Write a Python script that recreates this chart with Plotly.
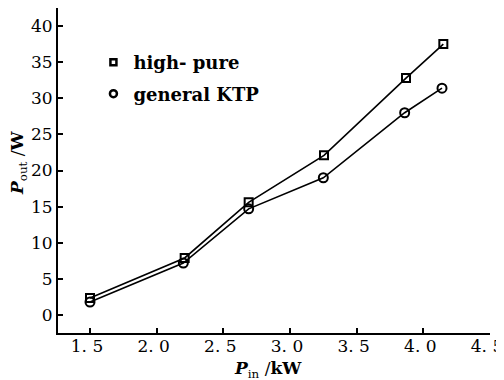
import plotly.graph_objects as go

x_high = [1.5, 2.21, 2.69, 3.255, 3.87, 4.15]
y_high = [2.35, 7.9, 15.6, 22.1, 32.8, 37.5]
x_gen = [1.5, 2.2, 2.69, 3.25, 3.86, 4.14]
y_gen = [1.8, 7.2, 14.7, 19.0, 28.0, 31.4]

x_ticks = [1.5, 2.0, 2.5, 3.0, 3.5, 4.0, 4.5]
x_ticktext = ["1. 5", "2. 0", "2. 5", "3. 0", "3. 5", "4. 0", "4. 5"]
y_ticks = [0, 5, 10, 15, 20, 25, 30, 35, 40]

FONT = "DejaVu Serif"
# page body has an 8px margin, so the figure is sized to fit the window
W, H = 496, 372
ML, MR, MT, MB = 50, 14, 0, 47
PLOT_W, PLOT_H = W - ML - MR, H - MT - MB

fig = go.Figure()
fig.add_trace(go.Scatter(x=x_high, y=y_high, mode="lines+markers",
                         line=dict(color="black", width=1.6),
                         marker=dict(symbol="square-open", size=8, color="black", line=dict(width=2)),
                         showlegend=False))
fig.add_trace(go.Scatter(x=x_gen, y=y_gen, mode="lines+markers",
                         line=dict(color="black", width=1.6),
                         marker=dict(symbol="circle-open", size=9, color="black", line=dict(width=2)),
                         showlegend=False))
# legend-only entries (markers without line)
fig.add_trace(go.Scatter(x=[None], y=[None], mode="markers", name="high- pure",
                         marker=dict(symbol="square-open", size=6, color="black", line=dict(width=2.5)),
                         legendgroup="a"))
fig.add_trace(go.Scatter(x=[None], y=[None], mode="markers", name="general KTP",
                         marker=dict(symbol="circle-open", size=7, color="black", line=dict(width=2.5)),
                         legendgroup="b"))

fig.update_layout(
    width=W, height=H,
    margin=dict(l=ML, r=MR, t=MT, b=MB, pad=0),
    paper_bgcolor="white", plot_bgcolor="white",
    font=dict(family=FONT, size=17, color="black"),
    legend=dict(x=0.082, y=0.889, xanchor="left", yanchor="top",
                font=dict(family=FONT, size=18, color="black", weight="bold"),
                bgcolor="rgba(0,0,0,0)", tracegroupgap=5,
                itemwidth=30),
    xaxis=dict(range=[1.26, 4.5], tickvals=x_ticks, ticktext=x_ticktext,
               showgrid=False, zeroline=False, showline=True, linecolor="black", linewidth=2,
               ticks="inside", ticklen=5, tickwidth=1.5, tickcolor="black",
               ticklabelstandoff=-3, ticklabelshift=-3,
               tickfont=dict(family=FONT, size=17)),
    yaxis=dict(range=[-2.49, 42.5], tickvals=y_ticks,
               showgrid=False, zeroline=False, showline=True, linecolor="black", linewidth=2,
               ticks="inside", ticklen=5, tickwidth=1.5, tickcolor="black",
               tickfont=dict(family=FONT, size=17)),
    annotations=[
        dict(text="<b><i>P</i></b><sub>in</sub> /<b>kW</b>",
             xref="paper", yref="paper", x=(260 - ML) / PLOT_W, y=-(H + 3 - (H - MB)) / PLOT_H,
             xanchor="center", yanchor="bottom", showarrow=False,
             font=dict(family=FONT, size=17, color="black")),
        dict(text="<b><i>P</i></b><sub>out</sub> /<b>W</b>", textangle=-90,
             xref="paper", yref="paper", x=(10 - ML) / PLOT_W, y=1 - 155 / PLOT_H,
             xanchor="center", yanchor="middle", showarrow=False,
             font=dict(family=FONT, size=17, color="black")),
    ],
)

fig.write_html("out.html")
